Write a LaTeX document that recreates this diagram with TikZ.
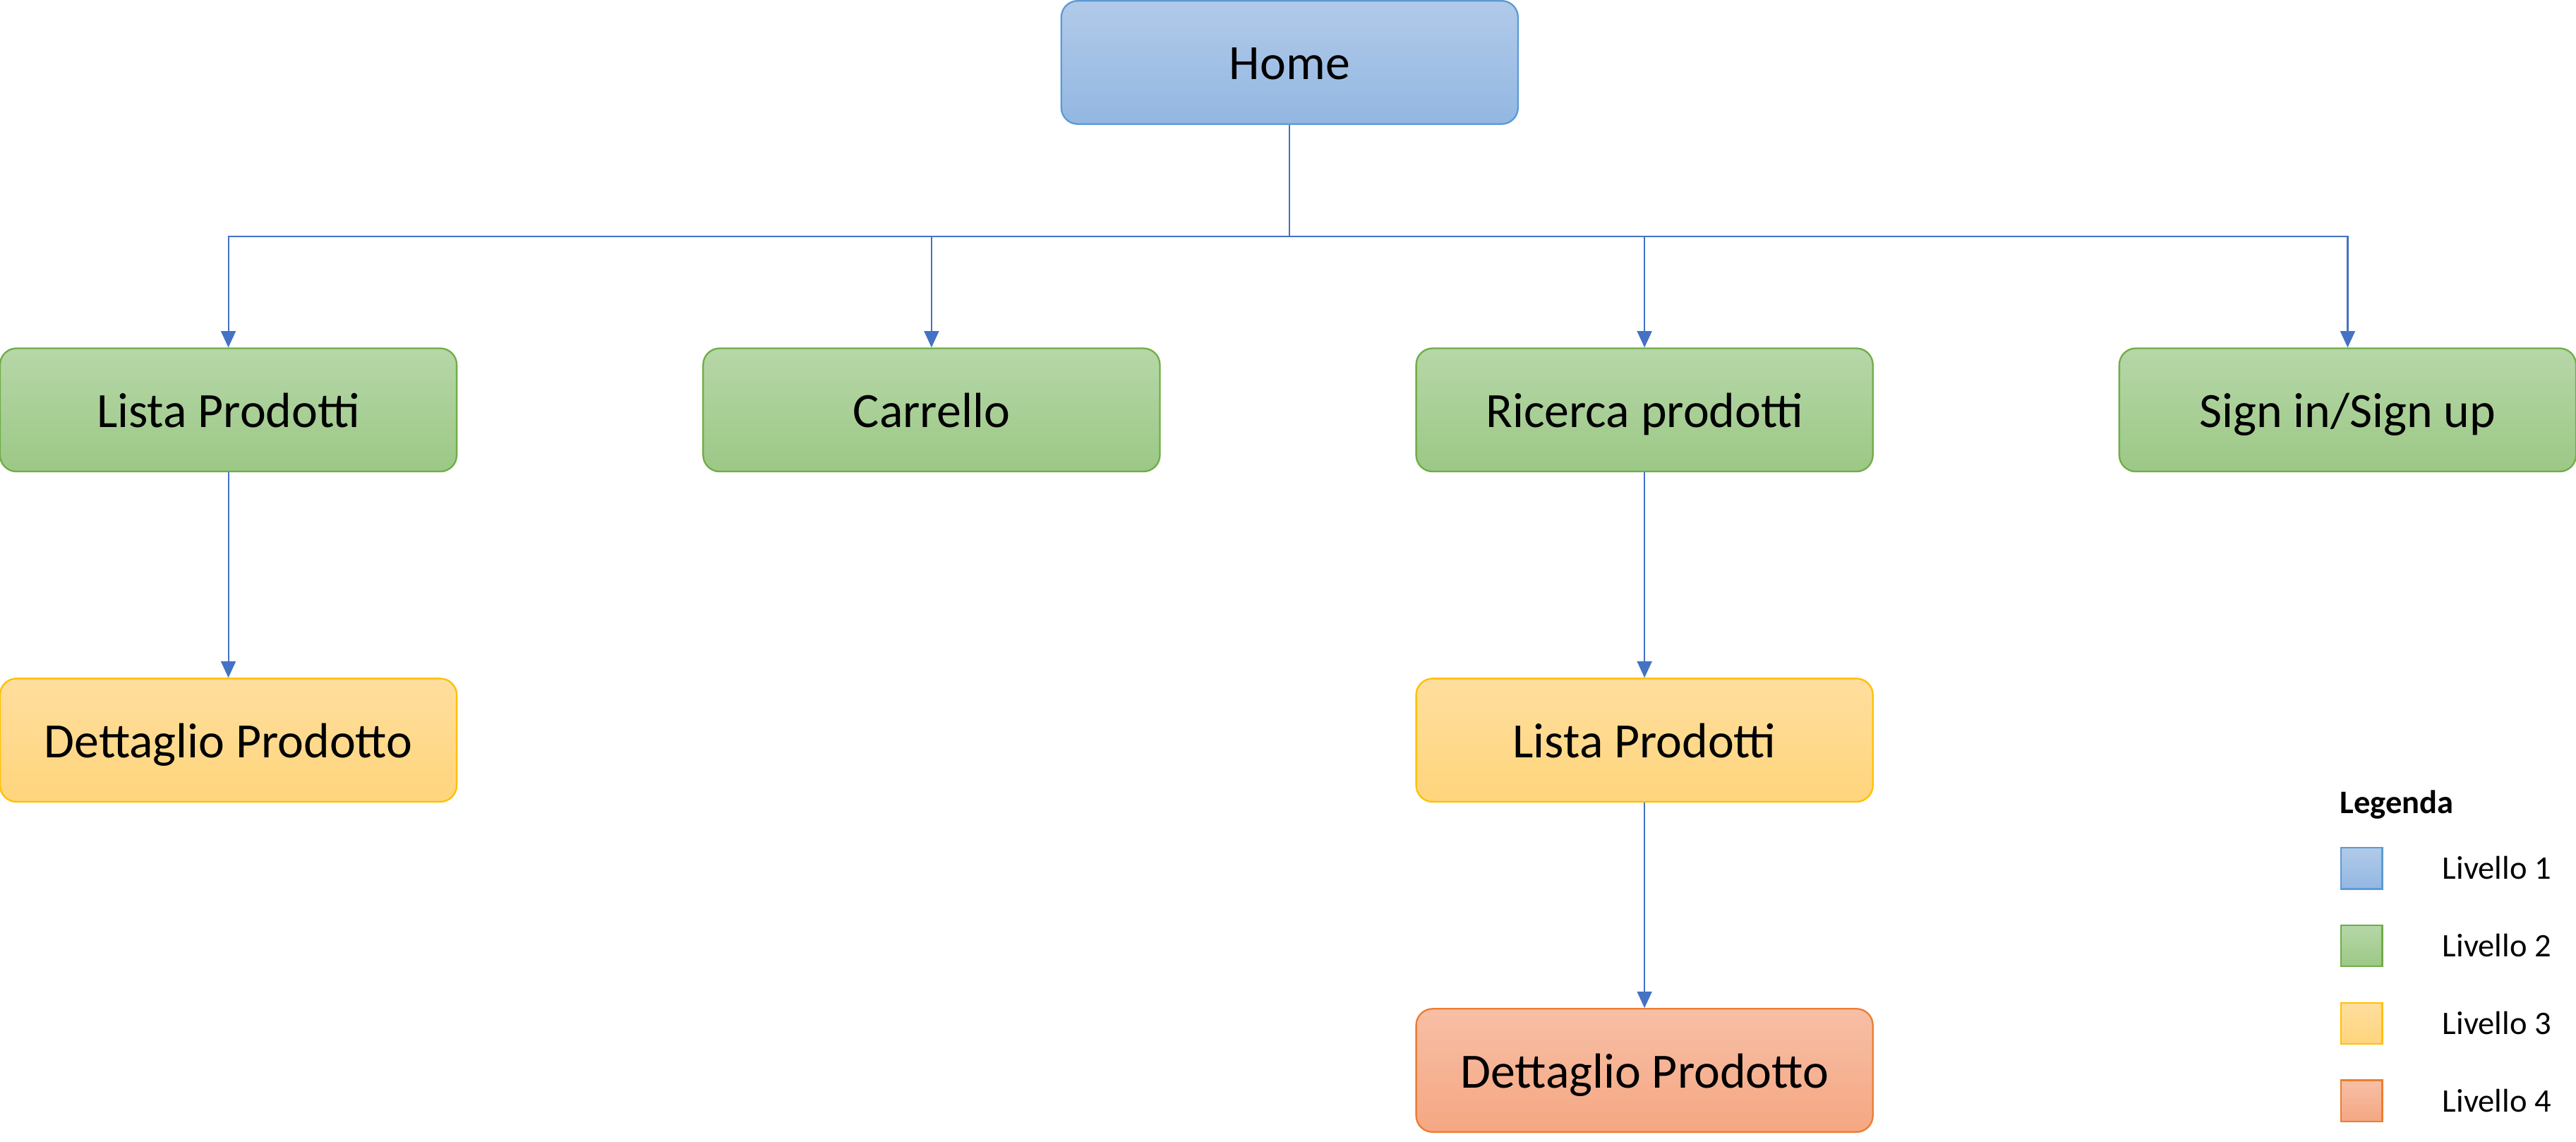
\documentclass[tikz,border=0pt]{standalone}
\usepackage{fontspec}
\setmainfont{Carlito}
\usetikzlibrary{arrows.meta}
\definecolor{blueT}{HTML}{B1CAE9}
\definecolor{blueB}{HTML}{93B7E2}
\definecolor{blueD}{HTML}{5B9BD5}
\definecolor{greenT}{HTML}{B6D7A8}
\definecolor{greenB}{HTML}{9CC886}
\definecolor{greenD}{HTML}{70AD47}
\definecolor{yelT}{HTML}{FFDE9E}
\definecolor{yelB}{HTML}{FFD57C}
\definecolor{yelD}{HTML}{FFC000}
\definecolor{orT}{HTML}{F7BFA6}
\definecolor{orB}{HTML}{F5A782}
\definecolor{orD}{HTML}{ED7D31}
\definecolor{conn}{HTML}{4472C4}
\tikzset{
  x=1pt,y=1pt,
  pagebox/.style={rounded corners=10pt, minimum width=278pt, minimum height=75pt,
     inner sep=0pt, line width=1pt, text height=21pt, text depth=0pt,
     font=\fontsize{30}{36}\selectfont},
  lev1/.style={pagebox, draw=blueD, top color=blueT, bottom color=blueB},
  lev2/.style={pagebox, draw=greenD, top color=greenT, bottom color=greenB},
  lev3/.style={pagebox, draw=yelD, top color=yelT, bottom color=yelB},
  lev4/.style={pagebox, draw=orD, top color=orT, bottom color=orB},
  legsq/.style={minimum width=25pt, minimum height=25pt, inner sep=0pt, line width=1pt},
  legtxt/.style={anchor=base west, inner sep=0pt, font=\fontsize{20}{24}\selectfont},
  link/.style={draw=conn, line width=0.9pt},
  arr/.style={link, -{Triangle[width=9pt,length=10pt]}}
}
\begin{document}
\begin{tikzpicture}
\useasboundingbox (0,0) rectangle (1568,-694.65);
% level 1
\node[lev1] (home) at (785,-38) {Home};
% level 2
\node[lev2] (lp) at (139,-249.5) {Lista Prodotti};
\node[lev2] (car) at (567,-249.5) {Carrello};
\node[lev2] (ric) at (1001,-249.5) {Ricerca prodotti};
\node[lev2] (sign) at (1429,-249.5) {Sign in/Sign up};
% level 3
\node[lev3] (dp) at (139,-450.5) {Dettaglio Prodotto};
\node[lev3] (lp2) at (1001,-450.5) {Lista Prodotti};
% level 4
\node[lev4] (dp2) at (1001,-651.5) {Dettaglio Prodotto};
% connectors
\coordinate (bus) at (785,-144);
\draw[link] (home.south) -- (bus);
\draw[arr] (bus) -| (lp.north);
\draw[arr] (bus) -| (car.north);
\draw[arr] (bus) -| (ric.north);
\draw[arr] (bus) -| (sign.north);
\draw[arr] (lp.south) -- (dp.north);
\draw[arr] (ric.south) -- (lp2.north);
\draw[arr] (lp2.south) -- (dp2.north);
% legend
\node[legtxt, font=\fontsize{20}{24}\selectfont\bfseries] (leg) at (1424,-495) {Legenda};
\node[legsq, draw=blueD, top color=blueT, bottom color=blueB] (s1) at (1437.5,-528.5) {};
\node[legsq, draw=greenD, top color=greenT, bottom color=greenB] (s2) at (1437.5,-575.6) {};
\node[legsq, draw=yelD, top color=yelT, bottom color=yelB] (s3) at (1437.5,-623) {};
\node[legsq, draw=orD, top color=orT, bottom color=orB] (s4) at (1437.5,-670) {};
\node[legtxt] (t1) at (1486.5,-535) {Livello 1};
\node[legtxt] (t2) at (1486.5,-582.3) {Livello 2};
\node[legtxt] (t3) at (1486.5,-629.6) {Livello 3};
\node[legtxt] (t4) at (1486.5,-676.8) {Livello 4};
\end{tikzpicture}
\end{document}
